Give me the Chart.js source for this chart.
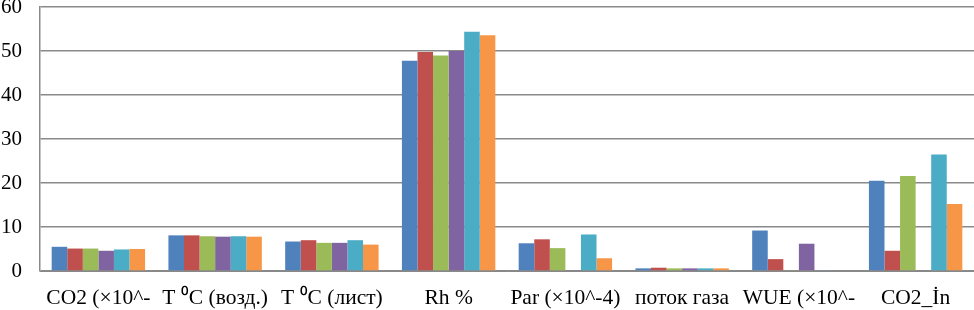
<!DOCTYPE html>
<html>
<head>
<meta charset="utf-8">
<script src="https://cdn.jsdelivr.net/npm/chart.js@4/dist/chart.umd.min.js"></script>
<style>
  html, body { margin: 0; padding: 0; background: #fff; }
  #wrap { width: 974px; height: 310px; }
</style>
</head>
<body>
<div id="wrap"><canvas id="barChart"></canvas></div>
<script>
const categorias = ['CO2 (×10^-', 'T ⁰C (возд.)', 'T ⁰C (лист)', 'Rh %', 'Par (×10^-4)', 'поток газа', 'WUE (×10^-', 'CO2_İn'];
const serie1 = [5.5, 8.1, 6.7, 47.8, 6.3, 0.6, 9.2, 20.5];
const serie2 = [5.1, 8.1, 7.0, 49.8, 7.2, 0.75, 2.7, 4.6];
const serie3 = [5.1, 7.9, 6.4, 49.0, 5.2, 0.6, 0.2, 21.6];
const serie4 = [4.6, 7.8, 6.4, 50.0, 0.2, 0.6, 6.2, 0];
const serie5 = [4.9, 7.9, 7.0, 54.4, 8.3, 0.6, 0.2, 26.5];
const serie6 = [5.0, 7.8, 6.0, 53.6, 2.9, 0.6, 0, 15.2];
const yTicks = [0, 10, 20, 30, 40, 50, 60];

const cores = ['#4f81bd', '#c0504d', '#9bbb59', '#8064a2', '#4bacc6', '#f79646'];
const series = [serie1, serie2, serie3, serie4, serie5, serie6];

const ctx = document.getElementById('barChart');
new Chart(ctx, {
  type: 'bar',
  data: {
    labels: categorias,
    datasets: series.map((d, i) => ({
      label: 'Ряд ' + (i + 1),
      data: d,
      backgroundColor: cores[i],
      borderWidth: 0,
      categoryPercentage: 0.8,
      barPercentage: 1.0
    }))
  },
  options: {
    responsive: true,
    maintainAspectRatio: false,
    animation: false,
    layout: { padding: { top: 7, right: 0, left: 0, bottom: 0 } },
    plugins: { legend: { display: false }, tooltip: { enabled: false } },
    scales: {
      x: {
        grid: { display: false },
        border: { display: true, color: '#888888', width: 1 },
        ticks: {
          color: '#000',
          font: { family: 'Liberation Serif', size: 21.5 },
          maxRotation: 0,
          autoSkip: false,
          padding: 6
        },
        afterFit: s => { s.height = 39; }
      },
      y: {
        min: 0,
        max: 60,
        afterBuildTicks: s => { s.ticks = yTicks.map(v => ({ value: v })); },
        grid: { color: '#8a8a8a', lineWidth: 1.5, drawTicks: false },
        border: { display: true, color: '#8a8a8a', width: 1.5 },
        ticks: {
          color: '#000',
          font: { family: 'Liberation Serif', size: 21 },
          padding: 18
        },
        afterFit: s => { s.width = 40; s.paddingTop = 0; s.paddingBottom = 0; }
      }
    }
  }
});
</script>
</body>
</html>
